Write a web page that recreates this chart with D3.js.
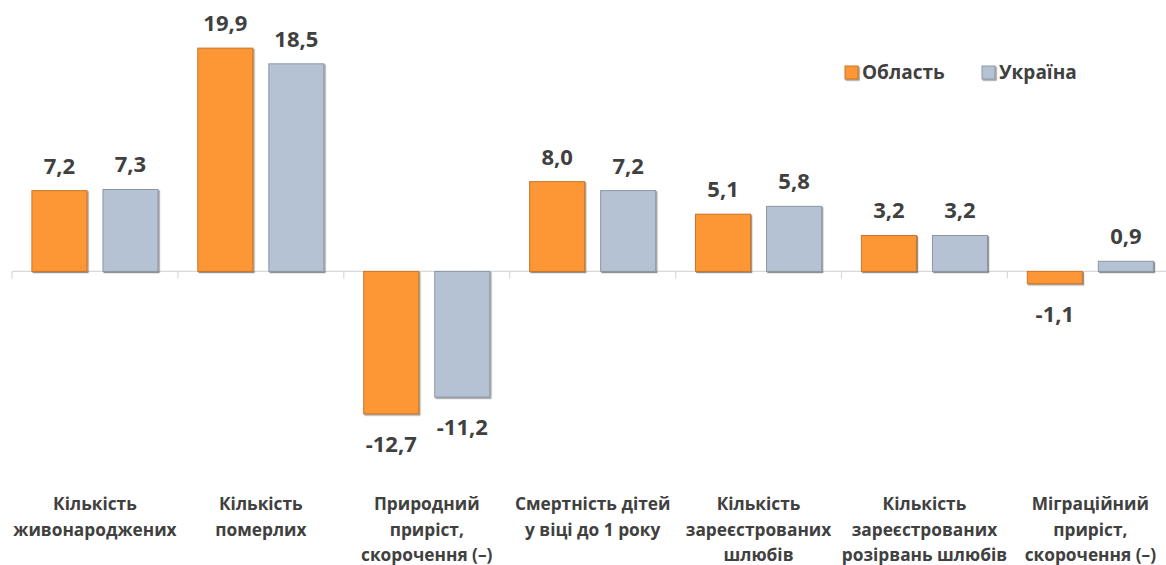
<!DOCTYPE html>
<html>
<head>
<meta charset="utf-8">
<script src="https://cdn.jsdelivr.net/npm/d3@7"></script>
<style>
  html, body { margin: 0; padding: 0; background: #fff; }
  svg { display: block; }
  text { font-family: "Open Sans", "Noto Sans", sans-serif; font-weight: 700; fill: #404040; }
</style>
</head>
<body>
<svg id="chart" width="1166" height="565"></svg>
<script>
const categories = [
  ["Кількість", "живонароджених"],
  ["Кількість", "померлих"],
  ["Природний", "приріст,", "скорочення (–)"],
  ["Смертність дітей", "у віці до 1 року"],
  ["Кількість", "зареєстрованих", "шлюбів"],
  ["Кількість", "зареєстрованих", "розірвань шлюбів"],
  ["Міграційний", "приріст,", "скорочення (–)"]
];
const seriesNames = ["Область", "Україна"];
const oblast = [7.2, 19.9, -12.7, 8.0, 5.1, 3.2, -1.1];
const ukraine = [7.3, 18.5, -11.2, 7.2, 5.8, 3.2, 0.9];
const colors = ["#FD9735", "#B5C2D3"];
const strokes = ["#C9762A", "#8C97A5"];

const svg = d3.select("#chart");
const defs = svg.append("defs");
const f = defs.append("filter").attr("id", "sh").attr("x", "-10%").attr("y", "-10%").attr("width", "130%").attr("height", "130%");
f.append("feDropShadow").attr("dx", 1.2).attr("dy", 1.2).attr("stdDeviation", 0.6)
  .attr("flood-color", "#000").attr("flood-opacity", 0.45);

const idx = d3.range(categories.length);
const x0 = d3.scaleBand().domain(idx).range([12, 12 + 165.9 * 7]).paddingInner(0).paddingOuter(0);
const x1 = d3.scaleBand().domain([0, 1]).range([0, x0.bandwidth()]).paddingInner(0.225).paddingOuter(0.28);
const y = d3.scaleLinear().domain([-15, 25]).range([439.7, -9.1]);
const y0 = y(0);

// axis line and ticks
svg.append("line").attr("x1", 12).attr("x2", 1166).attr("y1", y0).attr("y2", y0)
  .attr("stroke", "#D9D9D9").attr("stroke-width", 1.2);
idx.forEach(i => {
  svg.append("line").attr("x1", x0(i)).attr("x2", x0(i)).attr("y1", y0).attr("y2", y0 + 7)
    .attr("stroke", "#D9D9D9").attr("stroke-width", 1.2);
});

const series = [oblast, ukraine];
series.forEach((vals, s) => {
  const g = svg.append("g");
  g.selectAll("rect").data(vals).join("rect")
    .attr("x", (d, i) => x0(i) + x1(s))
    .attr("width", x1.bandwidth())
    .attr("y", d => Math.min(y(d), y0))
    .attr("height", d => Math.abs(y(d) - y0))
    .attr("fill", colors[s])
    .attr("stroke", strokes[s])
    .attr("stroke-width", 1)
    .attr("filter", "url(#sh)");
  g.selectAll("text").data(vals).join("text")
    .attr("x", (d, i) => x0(i) + x1(s) + x1.bandwidth() / 2)
    .attr("y", d => d >= 0 ? y(d) - 17 : y(d) + 38)
    .attr("text-anchor", "middle")
    .style("font-size", "22px")
    .text(d => d.toFixed(1).replace(".", ","));
});

// category labels
categories.forEach((lines, i) => {
  const t = svg.append("text")
    .attr("x", x0(i) + x0.bandwidth() / 2)
    .attr("y", 510)
    .attr("text-anchor", "middle")
    .style("font-size", "17.3px");
  lines.forEach((ln, k) => {
    t.append("tspan").attr("x", x0(i) + x0.bandwidth() / 2).attr("y", 510 + k * 25.5).text(ln);
  });
});

// legend
const legX = [845, 982];
seriesNames.forEach((n, s) => {
  svg.append("rect").attr("x", legX[s]).attr("y", 66).attr("width", 13).attr("height", 13)
    .attr("fill", colors[s]).attr("stroke", strokes[s]).attr("stroke-width", 1)
    .attr("filter", "url(#sh)");
  svg.append("text").attr("x", legX[s] + 17).attr("y", 79).style("font-size", "19px").text(n);
});
</script>
</body>
</html>
